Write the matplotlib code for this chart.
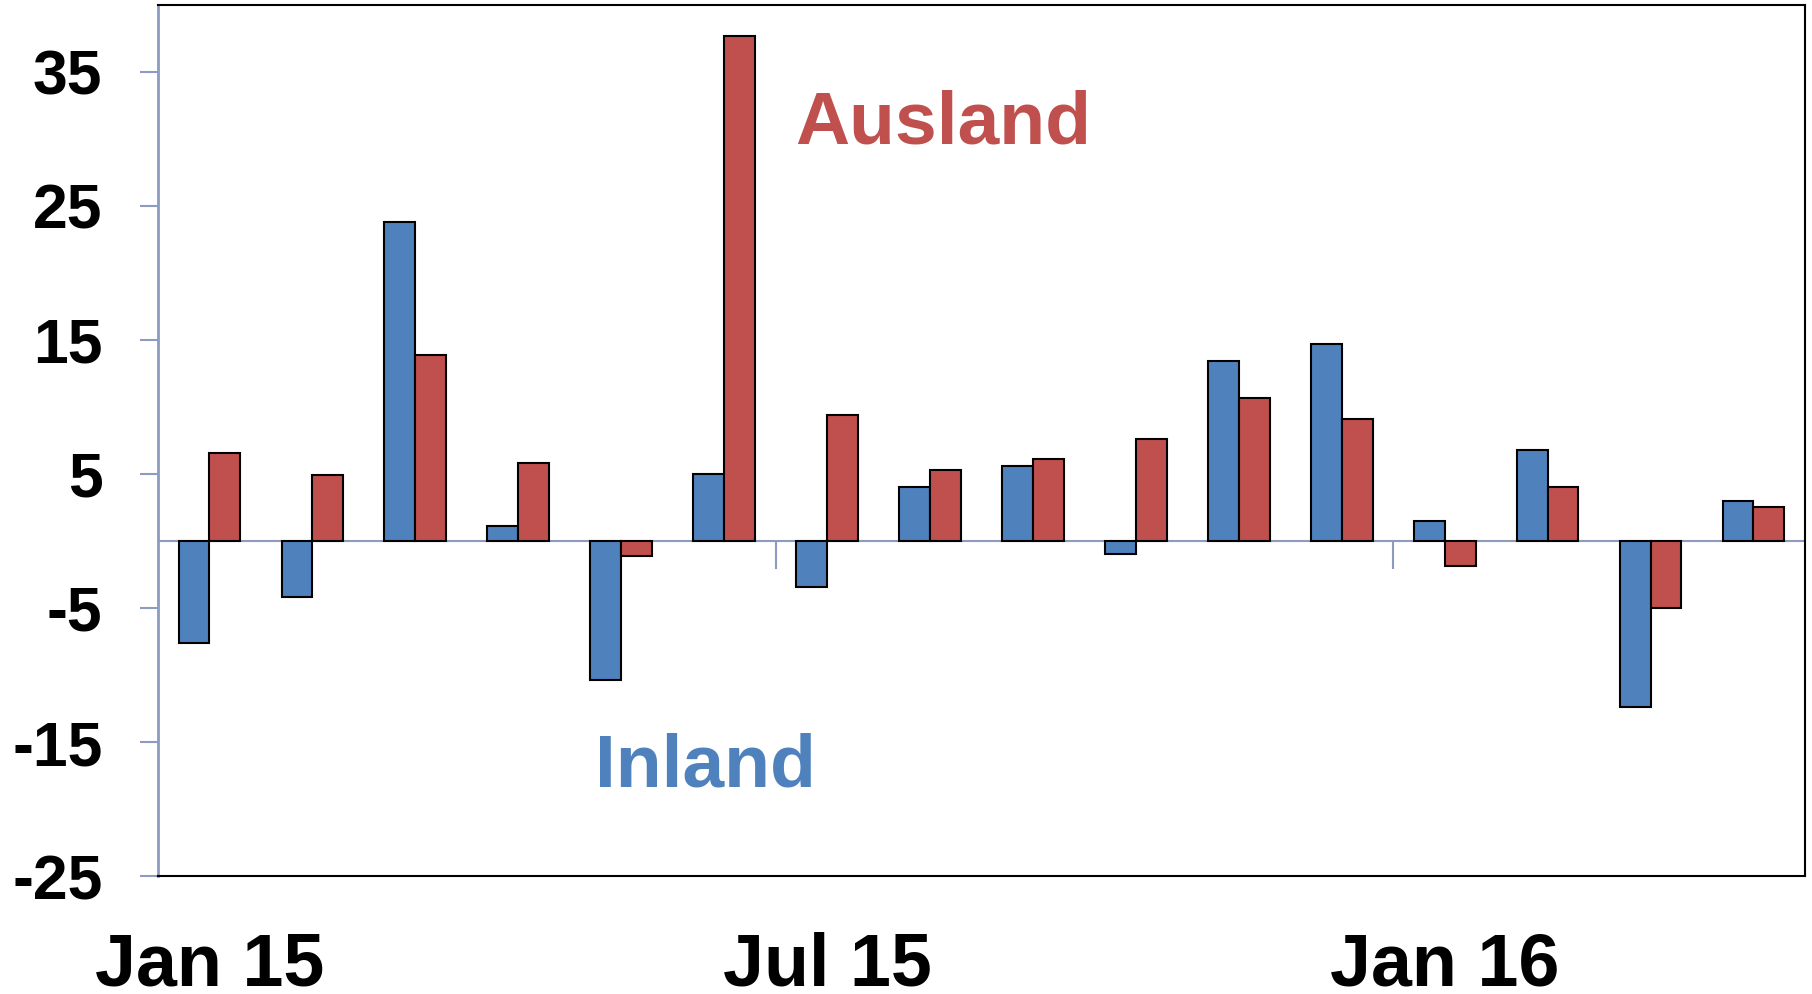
import numpy as np
import matplotlib.pyplot as plt

months = ["Jan 15", "Feb 15", "Mar 15", "Apr 15", "May 15", "Jun 15",
          "Jul 15", "Aug 15", "Sep 15", "Oct 15", "Nov 15", "Dec 15",
          "Jan 16", "Feb 16", "Mar 16", "Apr 16"]
inland = [-7.6, -4.2, 23.8, 1.1, -10.4, 5.0, -3.4, 4.0,
          5.6, -0.95, 13.4, 14.7, 1.5, 6.8, -12.4, 3.0]
ausland = [6.55, 4.9, 13.9, 5.8, -1.1, 37.7, 9.4, 5.3,
           6.1, 7.6, 10.7, 9.1, -1.9, 4.05, -5.0, 2.5]
yticks = [-25, -15, -5, 5, 15, 25, 35]

blue = "#4F81BD"
red = "#C0504D"
axis_col = "#8C9BBF"

plt.rcParams['font.family'] = ['Liberation Sans', 'DejaVu Sans']
plt.rcParams['font.weight'] = 'bold'

fig = plt.figure(figsize=(18.12, 9.94), dpi=100)
ax = fig.add_axes([0.0872, 0.1187, 0.9089, 0.8763])

x = np.arange(len(months))
w = 0.3
ax.bar(x - w/2, inland, w, color=blue, edgecolor="black", linewidth=1.5, zorder=3)
ax.bar(x + w/2, ausland, w, color=red, edgecolor="black", linewidth=1.5, zorder=3)

ax.set_xlim(-0.5, len(months) - 0.5)
ax.set_ylim(-25, 40)

# zero line with half-year tick marks
ax.axhline(0, color=axis_col, linewidth=1.5, zorder=2)
bounds = [i - 0.5 for i in range(6, len(months), 6)]
ax.vlines(bounds, -2.1, 0, color=axis_col, linewidth=1.5, zorder=2)

ax.set_yticks(yticks)
ax.set_yticklabels([str(v) for v in yticks], fontsize=45, fontweight='bold')
ax.tick_params(axis='y', length=13, width=1.5, color=axis_col, pad=27)

lab_pos = list(range(0, len(months), 6))
ax.set_xticks(lab_pos)
ax.set_xticklabels([months[i] for i in lab_pos], fontsize=53, fontweight='bold')
ax.tick_params(axis='x', length=0, pad=40)

for s in ["top", "right", "bottom"]:
    ax.spines[s].set_color("black")
    ax.spines[s].set_linewidth(1.5)
ax.spines["left"].set_color(axis_col)
ax.spines["left"].set_linewidth(2)

ax.text(7.13, 31.15, "Ausland", color=red, fontsize=54, fontweight='bold',
        ha='center', va='center')
ax.text(4.82, -16.9, "Inland", color=blue, fontsize=54, fontweight='bold',
        ha='center', va='center')

fig.savefig("out.png", dpi=100)
